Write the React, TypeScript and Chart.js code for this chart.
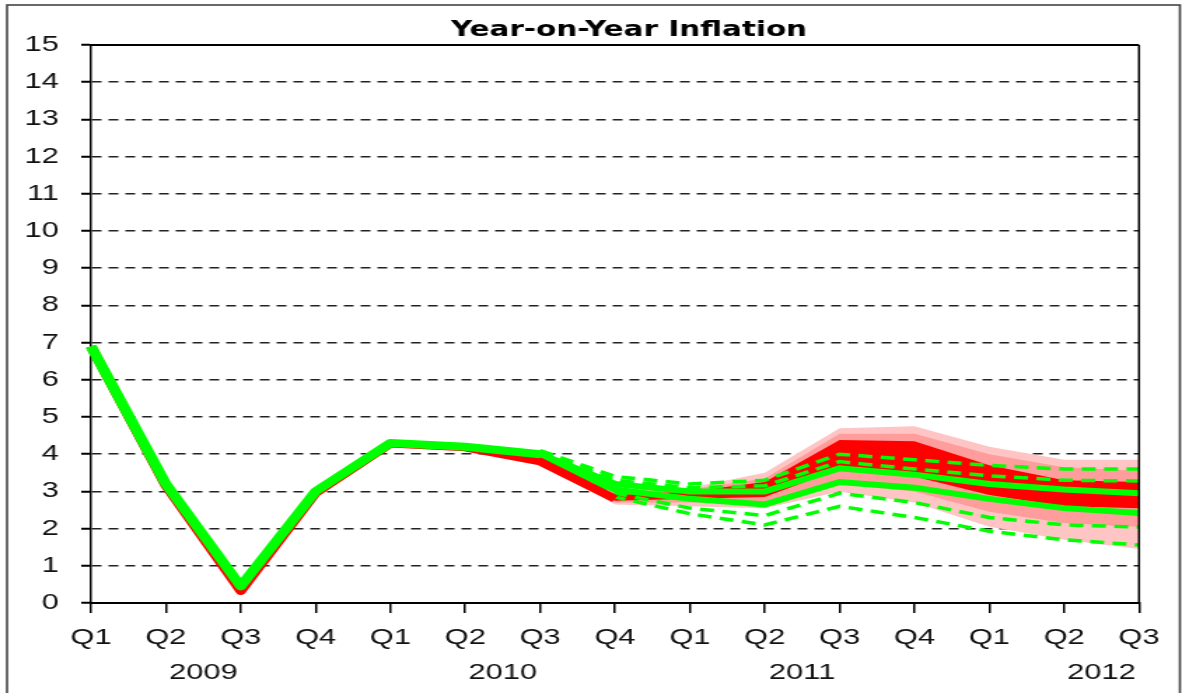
import React, { useEffect, useRef } from 'react';
import { Chart, registerables } from 'chart.js';

Chart.register(...registerables);

// ---------- data ----------
const quarters = ['Q1', 'Q2', 'Q3', 'Q4', 'Q1', 'Q2', 'Q3', 'Q4', 'Q1', 'Q2', 'Q3', 'Q4', 'Q1', 'Q2', 'Q3'];
const years = ['2009', '2010', '2011', '2012'];
const yearStartIndex = [0, 4, 8, 12];
const chartTitle = 'Year-on-Year Inflation';

const N = null;
// outturns
const greenHistory = [6.9, 3.2, 0.45, 3.0, 4.3, 4.2, 4.0, N, N, N, N, N, N, N, N];
const redHistory = [6.9, 3.15, 0.32, 2.95, 4.28, 4.18, 3.8, 2.8, N, N, N, N, N, N, N];

// red fan chart (bands)
const redP95 = [N, N, N, N, N, N, 3.8, 3.0, 3.1, 3.5, 4.7, 4.75, 4.2, 3.85, 3.85];
const redP80 = [N, N, N, N, N, N, 3.8, 2.95, 3.05, 3.35, 4.55, 4.55, 4.0, 3.65, 3.55];
const redP65 = [N, N, N, N, N, N, 3.8, 2.9, 3.0, 3.25, 4.38, 4.35, 3.7, 3.3, 3.25];
const redP35 = [N, N, N, N, N, N, 3.8, 2.75, 2.8, 2.85, 3.6, 3.4, 2.9, 2.6, 2.55];
const redP20 = [N, N, N, N, N, N, 3.8, 2.7, 2.7, 2.7, 3.2, 3.0, 2.45, 2.15, 2.05];
const redP5 = [N, N, N, N, N, N, 3.8, 2.65, 2.6, 2.55, 3.0, 2.7, 2.05, 1.7, 1.45];

// green fan chart (lines)
const greenUpperOuter = [N, N, N, N, N, N, 4.1, 3.4, 3.2, 3.3, 4.0, 3.85, 3.7, 3.6, 3.6];
const greenUpperInner = [N, N, N, N, N, N, 4.05, 3.3, 3.1, 3.15, 3.8, 3.6, 3.42, 3.3, 3.28];
const greenUpperSolid = [N, N, N, N, N, N, 4.0, 3.2, 3.0, 3.0, 3.62, 3.45, 3.2, 3.05, 2.95];
const greenLowerSolid = [N, N, N, N, N, N, 3.95, 3.05, 2.8, 2.65, 3.25, 3.1, 2.8, 2.55, 2.42];
const greenLowerInner = [N, N, N, N, N, N, 3.95, 2.95, 2.55, 2.35, 2.95, 2.7, 2.3, 2.1, 2.04];
const greenLowerOuter = [N, N, N, N, N, N, 3.9, 2.85, 2.4, 2.1, 2.6, 2.3, 1.93, 1.7, 1.56];

// ---------- layout ----------
const SCREEN_W = 1182;
const SCREEN_H = 693;
const INNER_W = 844; // drawn narrower, then stretched horizontally like the reference
const SX = SCREEN_W / INNER_W;

const PINK = '#FFC4C4';
const SALMON = '#FF9C9C';
const RED = '#FF0000';
const GREEN = '#00FF00';

const decorPlugin = {
  id: 'decor',
  afterDatasetsDraw(chart: any) {
    const { ctx, chartArea } = chart;
    ctx.save();
    ctx.strokeStyle = '#000';
    ctx.lineWidth = 2;
    ctx.beginPath();
    ctx.moveTo(chartArea.left, chartArea.top);
    ctx.lineTo(chartArea.right, chartArea.top);
    ctx.stroke();
    ctx.lineWidth = 1.5;
    ctx.beginPath();
    ctx.moveTo(chartArea.right, chartArea.top);
    ctx.lineTo(chartArea.right, chartArea.bottom);
    ctx.stroke();
    ctx.restore();
  },
  afterDraw(chart: any) {
    const { ctx, scales } = chart;
    ctx.save();
    // outer border
    ctx.strokeStyle = '#444';
    ctx.lineWidth = 1.6;
    ctx.strokeRect(5, 5, INNER_W - 6.5, SCREEN_H + 10);
    // title
    ctx.fillStyle = '#000';
    ctx.font = 'bold 21px "DejaVu Sans"';
    ctx.textAlign = 'center';
    ctx.textBaseline = 'middle';
    ctx.fillText(chartTitle, 629 / SX, 31);
    // year labels
    ctx.font = '22px "Liberation Sans"';
    ctx.fillStyle = '#111';
    const x = scales.x;
    years.forEach((yr, i) => {
      const px = x.getPixelForValue(yearStartIndex[i] + 1.5);
      ctx.fillText(yr, px, 673);
    });
    ctx.restore();
  },
};

function lineDs(label: string, data: any[], color: string, width: number, dash: number[] = []) {
  return {
    label,
    data,
    borderColor: color,
    backgroundColor: color,
    borderWidth: width,
    borderDash: dash,
    pointRadius: 0,
    tension: 0,
    fill: false,
  };
}

export default function App() {
  const ref = useRef<HTMLCanvasElement>(null);

  useEffect(() => {
    if (!ref.current) return;
    const datasets: any[] = [
      { ...lineDs('red 90%', redP95, 'rgba(0,0,0,0)', 0), fill: 1, backgroundColor: PINK },
      lineDs('red 5%', redP5, 'rgba(0,0,0,0)', 0),
      { ...lineDs('red 80%', redP80, 'rgba(0,0,0,0)', 0), fill: 3, backgroundColor: SALMON },
      lineDs('red 20%', redP20, 'rgba(0,0,0,0)', 0),
      { ...lineDs('red 65%', redP65, 'rgba(0,0,0,0)', 0), fill: 5, backgroundColor: RED },
      lineDs('red 35%', redP35, 'rgba(0,0,0,0)', 0),
      lineDs('green upper outer', greenUpperOuter, GREEN, 3.5, [10, 6]),
      lineDs('green upper inner', greenUpperInner, GREEN, 3.5, [10, 6]),
      lineDs('green upper', greenUpperSolid, GREEN, 6),
      lineDs('green lower', greenLowerSolid, GREEN, 6),
      lineDs('green lower inner', greenLowerInner, GREEN, 3.5, [10, 6]),
      lineDs('green lower outer', greenLowerOuter, GREEN, 3.5, [10, 6]),
      { ...lineDs('red outturn', redHistory, RED, 7.5), borderJoinStyle: 'round' },
      { ...lineDs('green outturn', greenHistory, GREEN, 8), borderJoinStyle: 'round' },
    ];
    datasets.forEach((d, i) => (d.order = datasets.length - i));

    const chart = new Chart(ref.current, {
      type: 'line',
      data: { labels: quarters, datasets },
      options: {
        animation: false,
        responsive: false,
        devicePixelRatio: 1,
        layout: { padding: { top: 45, right: INNER_W - 1139 / SX, left: 0, bottom: 0 } },
        plugins: {
          legend: { display: false },
          title: { display: false },
          tooltip: { enabled: false },
          filler: { propagate: true },
        },
        scales: {
          x: {
            type: 'category',
            offset: false,
            afterFit: (s: any) => {
              s.height = SCREEN_H - 603;
            },
            grid: {
              display: true,
              drawOnChartArea: false,
              drawTicks: true,
              tickLength: 10,
              color: '#000',
              lineWidth: 1.5,
            },
            border: { display: true, color: '#000', width: 2 },
            ticks: {
              autoSkip: false,
              maxRotation: 0,
              padding: 12,
              color: '#111',
              font: { family: '"Liberation Sans"', size: 22 },
            },
          },
          y: {
            min: 0,
            max: 15,
            afterFit: (s: any) => {
              s.width = 91 / SX;
            },
            grid: {
              drawTicks: true,
              tickLength: 7,
              lineWidth: 1.5,
              color: (c: any) => (c.tick && (c.tick.value === 0 || c.tick.value === 15) ? 'rgba(0,0,0,0)' : '#222'),
              tickColor: '#000',
              tickWidth: 2,
            },
            border: { display: true, color: '#000', width: 1.5, dash: [7, 5] },
            ticks: {
              stepSize: 1,
              padding: 16,
              color: '#111',
              font: { family: '"Liberation Sans"', size: 22 },
            },
          },
        },
      },
      plugins: [decorPlugin],
    });
    return () => chart.destroy();
  }, []);

  return (
    <div style={{ position: 'fixed', left: 0, top: 0, width: SCREEN_W, height: SCREEN_H, background: '#fff' }}>
      <canvas
        ref={ref}
        width={INNER_W}
        height={SCREEN_H}
        style={{ width: SCREEN_W + 'px', height: SCREEN_H + 'px', display: 'block' }}
      />
    </div>
  );
}
